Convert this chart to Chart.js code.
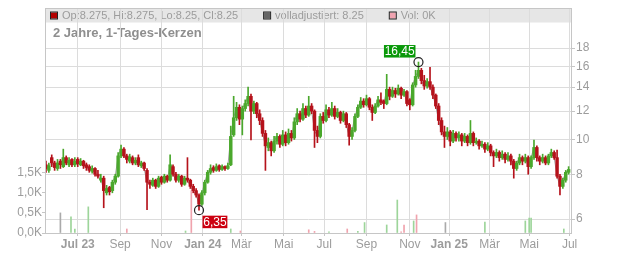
<!DOCTYPE html>
<html><head><meta charset="utf-8">
<script src="https://cdn.jsdelivr.net/npm/chart.js@4.4.1/dist/chart.umd.min.js"></script>
<style>html,body{margin:0;padding:0;background:#fff;overflow:hidden}canvas{display:block}</style>
</head><body>
<canvas id="c" width="632" height="253"></canvas>
<script>
// ---- data ----
const opens = [8.5,8.2,8.9,8.6,8.3,8.7,8.4,8.9,8.5,8.8,
8.5,8.8,8.5,8.7,8.5,8.4,8.15,8.3,8.0,7.7,
7.8,7.1,7.35,7.2,7.6,7.9,9.0,9.4,9.0,8.7,
8.9,8.6,8.9,8.45,8.6,8.2,7.6,7.45,7.7,7.4,
7.85,7.6,7.9,7.7,8.4,8.0,7.7,7.9,7.5,7.8,
7.7,7.4,7.2,7.0,6.6,7.1,7.6,8.1,8.35,8.2,
8.45,8.25,8.4,8.3,8.5,10.3,11.5,12.3,11.4,12.2,
12.6,13.2,12.0,12.6,11.8,11.3,10.4,9.5,9.8,9.3,
9.9,10.2,9.7,10.3,9.8,10.4,10.1,11.2,11.8,11.4,
12.2,11.7,12.4,12.0,10.6,10.2,11.6,11.3,12.1,11.7,
12.2,11.6,11.9,11.3,11.8,11.0,10.2,10.6,11.6,12.3,
12.8,12.5,13.0,12.3,11.9,12.4,12.9,12.8,12.6,13.8,
13.2,13.7,13.4,13.9,13.3,13.6,12.9,12.5,14.2,15.0,
15.6,14.6,14.1,14.5,14.0,13.3,12.4,11.3,10.5,10.2,
10.5,9.9,10.4,10.1,10.3,9.9,10.2,9.8,10.4,9.8,
9.9,9.6,9.7,9.4,9.6,9.2,9.0,9.2,8.9,9.1,
8.8,9.0,8.7,8.3,8.6,8.9,8.7,8.9,8.4,8.9,
9.5,8.9,8.7,8.9,8.6,9.0,9.2,8.9,7.9,7.4,
7.7,8.1];
const highs = [8.7,8.6,9.06,8.7,8.8,8.8,9.4,9.0,8.9,8.85,
8.9,8.9,8.85,8.75,8.6,8.5,8.45,8.35,8.2,8.0,
7.9,7.45,7.4,7.7,8.0,9.2,9.65,9.5,9.1,9.1,
9.0,8.9,9.06,8.7,8.65,8.3,7.7,7.8,7.75,7.9,
7.9,8.0,7.95,9.06,8.5,8.1,8.0,7.95,7.9,8.9,
7.75,7.5,7.3,7.05,7.2,7.7,8.2,8.5,8.45,8.55,
8.5,8.5,8.45,8.6,10.9,13.2,12.7,12.5,12.4,12.9,
14.0,13.4,12.8,12.7,12.1,11.5,10.6,10.1,9.9,10.2,
10.4,10.3,10.6,10.5,10.7,10.6,11.5,12.2,12.0,12.6,
12.4,13.2,12.6,12.1,10.9,11.8,11.9,12.5,12.3,12.7,
12.4,12.2,12.0,12.0,11.9,11.1,10.8,11.8,12.5,13.1,
13.0,13.3,13.1,12.5,12.6,13.2,13.5,12.9,15.2,14.0,
14.0,13.9,14.2,14.0,13.8,13.7,13.0,14.4,15.6,16.45,
15.8,15.1,14.8,15.9,14.2,13.4,12.6,11.5,10.9,10.8,
10.6,10.6,10.5,10.5,10.4,10.4,10.3,11.3,10.5,10.1,
10.0,9.9,9.8,9.8,9.7,9.3,9.4,9.3,9.3,9.2,
9.2,9.1,8.8,8.7,9.1,9.0,9.1,9.0,9.0,9.97,
9.6,9.0,9.1,9.0,9.1,9.4,9.3,9.35,8.0,7.8,
8.2,8.4];
const lows = [8.1,8.1,8.4,8.2,8.2,8.3,8.35,8.5,8.4,8.4,
8.4,8.4,8.45,8.3,8.2,8.1,8.05,7.9,7.8,7.6,
6.45,7.0,7.0,7.1,7.5,7.85,8.9,8.9,8.6,8.6,
8.5,8.5,8.4,8.35,8.2,6.37,7.3,7.4,7.3,7.35,
7.5,7.55,7.6,7.65,7.9,7.6,7.6,7.4,7.45,7.6,
7.3,7.1,6.9,6.35,6.55,7.0,7.55,8.0,8.1,8.15,
8.15,8.2,8.2,8.25,8.45,10.2,11.3,11.0,10.3,12.0,
12.4,9.97,11.8,11.5,11.0,10.2,8.2,9.3,9.0,9.2,
9.7,9.5,9.6,9.6,9.7,9.9,10.0,11.0,11.2,11.3,
11.5,11.6,11.8,9.5,9.8,10.1,11.1,11.2,11.5,11.6,
11.4,11.5,11.1,11.2,10.8,9.65,10.0,10.5,11.5,12.2,
12.3,12.4,12.1,11.3,11.8,12.3,12.5,12.2,12.5,12.9,
13.1,13.1,13.3,13.0,13.2,12.4,12.1,12.4,14.0,14.8,
14.3,13.8,13.9,13.8,13.0,12.2,11.0,10.3,9.5,10.0,
9.6,9.8,9.9,9.9,9.6,9.8,9.6,9.7,9.6,9.7,
9.4,9.5,9.2,9.3,9.0,8.4,8.9,8.7,8.8,8.6,
8.7,8.5,7.8,8.2,8.5,8.5,8.6,8.0,8.3,8.8,
8.7,8.5,8.6,8.5,8.5,8.9,8.8,7.8,7.0,7.3,
7.6,8.0];
const closes = [8.3,8.45,8.6,8.35,8.6,8.5,8.9,8.6,8.75,8.5,
8.7,8.55,8.7,8.45,8.35,8.2,8.3,8.0,7.9,7.8,
7.2,7.3,7.15,7.6,7.9,9.0,9.4,9.0,8.8,8.95,
8.6,8.75,8.5,8.6,8.3,7.6,7.5,7.7,7.4,7.8,
7.6,7.9,7.7,8.5,8.0,7.7,7.9,7.5,7.8,7.7,
7.4,7.2,7.0,6.6,7.1,7.6,8.1,8.3,8.2,8.4,
8.25,8.4,8.3,8.45,10.2,11.5,12.3,11.4,12.2,12.6,
13.2,12.0,12.6,11.8,11.3,10.4,9.6,9.8,9.3,9.9,
10.2,9.7,10.3,9.8,10.4,10.1,11.2,11.8,11.4,12.2,
11.7,12.4,12.0,10.6,10.2,11.6,11.3,12.1,11.7,12.2,
11.6,11.9,11.3,11.8,11.0,10.2,10.6,11.6,12.3,12.8,
12.5,13.0,12.3,11.9,12.4,12.9,12.7,12.6,13.8,13.2,
13.7,13.4,13.9,13.3,13.6,12.6,12.5,14.2,15.0,15.6,
14.6,14.1,14.5,14.0,13.3,12.4,11.3,10.5,10.2,10.5,
9.9,10.4,10.1,10.3,9.9,10.2,9.8,10.4,9.8,9.9,
9.6,9.7,9.4,9.6,9.2,9.0,9.2,8.9,9.1,8.8,
9.0,8.7,8.3,8.6,8.9,8.7,8.9,8.4,8.9,9.5,
8.9,8.7,8.9,8.6,9.0,9.2,8.9,7.9,7.4,7.7,
8.1,8.25];

// volume (thousands), trading-day position and day direction
const volDays = [16,27,31,45,85,146,152,193,203,274,280,295,314,325,332,355,366,370,373,383,386,416,457,499,503,505,539];
const volK    = [0.5,0.4,0.1,0.65,0.1,0.05,1.05,0.1,0.05,0.08,0.04,0.03,0.1,0.04,0.26,0.2,0.82,0.03,0.2,0.3,0.45,0.26,0.27,0.3,0.37,0.37,0.1];
const volDir  = ['n','u','u','u','d','u','d','u','d','d','d','u','d','u','u','u','u','d','d','u','d','n','u','u','u','u','u'];

// time axis (trading-day index) ticks
const monthTickDays = [34,78,121,164,204,248,290,334,379,420,462,503,545];
const monthLabels = ['Jul 23','Sep','Nov','Jan 24','Mär','Mai','Jul','Sep','Nov','Jan 25','Mär','Mai','Jul'];
const boldLabels = ['Jul 23','Jan 24','Jan 25'];
const priceTicks = [6,8,10,12,14,16,18];
const volTicks = [0,0.5,1.0,1.5];

const legendLabels = ['Op:8.275, Hi:8.275, Lo:8.25, Cl:8.25','volladjustiert: 8.25','Vol: 0K'];
const titleText = '2 Jahre, 1-Tages-Kerzen';

// ---- layout / style ----
const FIRST_DAY = 1, DAY_STEP = 3;
const X_MIN = 0, X_MAX = 547.5;
const P_MIN = 5.484, P_MAX = 23.13;
const V_MAX = 5.572;
const FONT = '"Liberation Sans", Arial, Helvetica, sans-serif';
const GRID = '#dcdcdc', FRAME = '#c6c6c6', TXT = '#9c9c9c';
const UP = '#4aa82c', DOWN = '#b5121b';
const VOLC = {u:'#9dd59a', d:'#f0a3ad', n:'#aaaaaa'};
const legendSquares = ['#b30000','#666666','#f0a3b0'];

const dayOf = i => FIRST_DAY + DAY_STEP * i;
const colors = closes.map((c,i) => c >= opens[i] ? UP : DOWN);
const wickData = closes.map((c,i) => ({x: dayOf(i), y: [lows[i], highs[i]]}));
const bodyData = closes.map((c,i) => ({x: dayOf(i), y: [opens[i], c]}));
const lineData = closes.map((c,i) => ({x: dayOf(i), y: c}));
const volData = volDays.map((d,i) => ({x: d, y: volK[i]}));
const labelFor = v => { const k = monthTickDays.indexOf(v); return k < 0 ? '' : monthLabels[k]; };
const fmtDE = v => String(v).replace('.', ',');

const headerPlugin = {
  id: 'header',
  beforeDraw(chart) {
    const {ctx, chartArea: a} = chart;
    ctx.save();
    ctx.fillStyle = '#e6e6e6';
    ctx.fillRect(a.left, a.top, a.right - a.left, 13.5);
    ctx.font = '11px ' + FONT;
    ctx.textBaseline = 'middle';
    let x = a.left + 6;
    legendLabels.forEach((t, k) => {
      ctx.fillStyle = legendSquares[k];
      ctx.fillRect(x, a.top + 3.5, 6, 6);
      ctx.strokeStyle = '#222';
      ctx.lineWidth = 1;
      ctx.strokeRect(x - 0.5, a.top + 3, 7, 7);
      ctx.fillStyle = TXT;
      ctx.fillText(t, x + 11, a.top + 7);
      x += 11 + ctx.measureText(t).width + 26;
    });
    ctx.font = 'bold 13px ' + FONT;
    ctx.fillStyle = '#8e8e8e';
    ctx.fillText(titleText, a.left + 8, a.top + 24.5);
    ctx.restore();
  },
  afterDatasetsDraw(chart) {
    const {ctx, chartArea: a, scales} = chart;
    const xs = scales.x, ys = scales.y;
    let iMax = 0, iMin = 0;
    highs.forEach((h,i) => { if (h > highs[iMax]) iMax = i; });
    lows.forEach((l,i) => { if (l < lows[iMin]) iMin = i; });
    ctx.save();
    ctx.font = '12px ' + FONT;
    ctx.textBaseline = 'middle';
    const mark = (i, val, bg, above) => {
      const px = xs.getPixelForValue(dayOf(i)), py = ys.getPixelForValue(val);
      const t = fmtDE(val), w = ctx.measureText(t).width + 1.5, h = 12.5;
      const bx = above ? px - 3 - w : px + 3.5;
      const by = above ? py - 4.5 - h : py + 5.5;
      ctx.fillStyle = bg;
      ctx.fillRect(bx, by, w, h);
      ctx.fillStyle = '#fff';
      ctx.textAlign = 'center';
      ctx.fillText(t, bx + w / 2, by + h / 2 + 0.5);
      ctx.beginPath();
      ctx.arc(px, py, 4.5, 0, Math.PI * 2);
      ctx.strokeStyle = '#222';
      ctx.lineWidth = 1.2;
      ctx.stroke();
    };
    mark(iMax, highs[iMax], '#0a990a', true);
    mark(iMin, lows[iMin], '#cc0010', false);
    ctx.restore();
  },
  afterDraw(chart) {
    const {ctx, chartArea: a} = chart;
    ctx.save();
    ctx.strokeStyle = FRAME;
    ctx.lineWidth = 1;
    ctx.strokeRect(a.left + 0.5, a.top - 0.5, a.right - a.left - 1, a.bottom - a.top + 1);
    ctx.restore();
  }
};

new Chart(document.getElementById('c'), {
  type: 'bar',
  data: {
    datasets: [
      {type:'bar', data: volData, yAxisID:'yVol', xAxisID:'x', backgroundColor: volDir.map(d => VOLC[d]), barThickness: 1, grouped: false, order: 5},
      {type:'line', data: lineData, yAxisID:'y', xAxisID:'x', borderColor:'#a0a0a0', borderWidth: 1, pointRadius: 0, tension: 0, order: 4},
      {type:'bar', data: wickData, yAxisID:'y', xAxisID:'x', backgroundColor: colors, barThickness: 1, grouped: false, order: 3},
      {type:'bar', data: bodyData, yAxisID:'y', xAxisID:'x', backgroundColor: colors, barThickness: 2.8, grouped: false, order: 2}
    ]
  },
  options: {
    responsive: false, animation: false, events: [], devicePixelRatio: 1,
    layout: {padding: {top: 9, left: 0, right: 0, bottom: 0}},
    plugins: {legend: {display: false}, tooltip: {enabled: false}},
    scales: {
      x: {
        type: 'linear', position: 'bottom', min: X_MIN, max: X_MAX, offset: false, bounds: 'data',
        grid: {color: GRID, tickColor: FRAME, tickLength: 3, offset: false},
        border: {display: false},
        afterBuildTicks: s => { s.ticks = monthTickDays.map(v => ({value: v})); },
        afterFit: s => { s.height = 20; },
        ticks: {
          autoSkip: false, maxRotation: 0, minRotation: 0, padding: 1, color: TXT,
          font: c => ({family: FONT, size: 12, weight: (c.tick && boldLabels.includes(labelFor(c.tick.value))) ? 'bold' : 'normal'}),
          callback: v => labelFor(v)
        }
      },
      yVol: {
        type: 'linear', position: 'left', min: 0, max: V_MAX, bounds: 'data',
        grid: {color: 'rgba(0,0,0,0)', tickColor: FRAME, tickLength: 3, drawOnChartArea: false},
        border: {display: false},
        afterBuildTicks: s => { s.ticks = volTicks.map(v => ({value: v})); },
        afterFit: s => { s.width = 45; },
        ticks: {autoSkip: false, padding: 0, color: TXT, font: {family: FONT, size: 12},
          callback: v => v.toFixed(1).replace('.', ',') + 'K'}
      },
      y: {
        type: 'logarithmic', position: 'right', min: P_MIN, max: P_MAX, bounds: 'data',
        grid: {color: GRID, tickColor: FRAME, tickLength: 3},
        border: {display: false},
        afterBuildTicks: s => { s.ticks = priceTicks.map(v => ({value: v})); },
        afterFit: s => { s.width = 60; },
        ticks: {autoSkip: false, padding: 1, color: TXT, font: {family: FONT, size: 12},
          callback: v => String(v)}
      }
    }
  },
  plugins: [headerPlugin]
});
</script>
</body></html>
